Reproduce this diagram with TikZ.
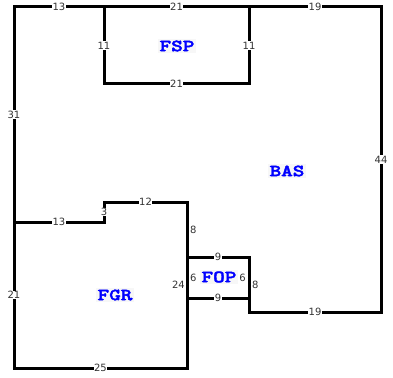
\documentclass[tikz,border=0pt]{standalone}
\usepackage{fontspec}
\usetikzlibrary{calc}
\newfontfamily\numfont{DejaVu Sans}
\newfontfamily\roomfont{lmmonolt10-bold.otf}[FakeStretch=1.3,FakeBold=2.5]
\begin{document}
\begin{tikzpicture}[x=1pt,y=-1pt,
  wall/.style={line width=3pt,line cap=rect},
  len/.style={fill=white,inner sep=0.6pt,text=black!80,font=\numfont\fontsize{10}{10}\selectfont},
  lenr/.style={len,fill=none,anchor=west,inner sep=1pt},
  lenl/.style={len,fill=none,anchor=east,inner sep=1pt},
  room/.style={fill=black!3,inner sep=2pt,text=blue,font=\roomfont\fontsize{17}{17}\selectfont}]
\useasboundingbox (0,0) rectangle (393,377);
\coordinate (A) at (14,7);
\coordinate (B) at (104,7);
\coordinate (C) at (249,7);
\coordinate (D) at (381,7);
\coordinate (E) at (104,84);
\coordinate (F) at (249,84);
\coordinate (G) at (14,222);
\coordinate (H) at (104,222);
\coordinate (I) at (104,202);
\coordinate (J) at (187,202);
\coordinate (K) at (187,257);
\coordinate (L) at (249,257);
\coordinate (M) at (187,298);
\coordinate (N) at (249,298);
\coordinate (O) at (249,312);
\coordinate (P) at (381,312);
\coordinate (Q) at (14,368);
\coordinate (R) at (187,368);
\draw[wall] (A) -- (D);
\draw[wall] (B) -- (E) -- (F) -- (C);
\draw[wall] (A) -- (Q) -- (R) -- (J) -- (I) -- (H) -- (G);
\draw[wall] (D) -- (P) -- (O) -- (L) -- (K);
\draw[wall] (M) -- (N);
% room names
\node[room] (fsp) at (177,46) {FSP};
\node[room] (bas) at (287,171) {BAS};
\node[room] (fgr) at (115,295) {FGR};
\node[room] (fop) at (219,277) {FOP};
% lengths
\node[len] (l1) at ($(A)!0.5!(B)$) {13};
\node[len] (l2) at ($(B)!0.5!(C)$) {21};
\node[len] (l3) at ($(C)!0.5!(D)$) {19};
\node[len] (l4) at ($(B)!0.5!(E)$) {11};
\node[len] (l5) at ($(C)!0.5!(F)$) {11};
\node[len] (l6) at ($(E)!0.5!(F)$) {21};
\node[len] (l7) at ($(A)!0.5!(G)$) {31};
\node[len] (l8) at ($(D)!0.5!(P)$) {44};
\node[len] (l9) at ($(G)!0.5!(H)$) {13};
\node[len] (l10) at ($(H)!0.5!(I)$) {3};
\node[len] (l11) at ($(I)!0.5!(J)$) {12};
\node[lenr] (l12) at ($(J)!0.5!(K)+(2,0)$) {8};
\node[len] (l13) at ($(K)!0.5!(L)$) {9};
\node[lenr] (l14) at ($(K)!0.5!(M)+(2,0)$) {6};
\node[lenl] (l15) at ($(L)!0.5!(N)+(-2,0)$) {6};
\node[len] (l16) at ($(M)!0.5!(N)$) {9};
\node[lenr] (l17) at ($(L)!0.5!(O)+(2,0)$) {8};
\node[len] (l18) at ($(O)!0.5!(P)$) {19};
\node[lenl] (l19) at ($(J)!0.5!(R)+(-1,0)$) {24};
\node[len] (l20) at ($(G)!0.5!(Q)$) {21};
\node[len] (l21) at ($(Q)!0.5!(R)$) {25};
\end{tikzpicture}
\end{document}
